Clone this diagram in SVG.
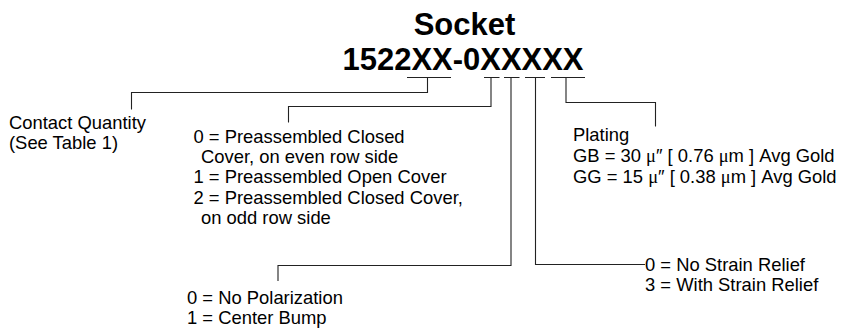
<svg xmlns="http://www.w3.org/2000/svg" width="843" height="330" viewBox="0 0 843 330">
<style>
.t{font-family:"Liberation Sans",Arial,sans-serif;font-size:18.4px;fill:#000}
.h{font-family:"Liberation Sans",Arial,sans-serif;font-size:31px;font-weight:bold;fill:#000;text-anchor:middle}
.mu{font-family:"Liberation Serif","Times New Roman",serif}
.c{fill:none;stroke:#222;stroke-width:1.1}
</style>
<rect width="843" height="330" fill="#fff"/>
<g id="title">
<text class="h" x="464.5" y="35">Socket</text>
<text class="h" x="463" y="69.5" textLength="241" lengthAdjust="spacingAndGlyphs">1522XX-0XXXXX</text>
</g>
<g id="connectors">
<path class="c" d="M407 77.5H451M427.5 77.5V92.5H131.5V109.5"/>
<path class="c" d="M484 77.5H499.5M491 77.5V106.5H288.5V122.5"/>
<path class="c" d="M504 77.5H519.5M511 77.5V265.5H278V281"/>
<path class="c" d="M525 77.5H545M535.5 77.5V264.5H645"/>
<path class="c" d="M551 77.5H585M566 77.5V102.5H655.5V126.5"/>
</g>
<g id="contact-quantity">
<text class="t" x="9" y="128.5">Contact Quantity</text>
<text class="t" x="9" y="148.5">(See Table 1)</text>
</g>
<g id="cover">
<text class="t" x="193.5" y="142.5">0 = Preassembled Closed</text>
<text class="t" x="201" y="163">Cover, on even row side</text>
<text class="t" x="193.5" y="183">1 = Preassembled Open Cover</text>
<text class="t" x="193.5" y="203.5">2 = Preassembled Closed Cover,</text>
<text class="t" x="201" y="224">on odd row side</text>
</g>
<g id="plating">
<text class="t" x="573" y="141">Plating</text>
<text class="t" x="573" y="161.5">GB = 30 <tspan class="mu">μ</tspan>″ [ 0.76 <tspan class="mu">μ</tspan>m ] Avg Gold</text>
<text class="t" x="573" y="183">GG = 15 <tspan class="mu">μ</tspan>″ [ 0.38 <tspan class="mu">μ</tspan>m ] Avg Gold</text>
</g>
<g id="strain-relief">
<text class="t" x="645" y="270.5">0 = No Strain Relief</text>
<text class="t" x="645" y="291">3 = With Strain Relief</text>
</g>
<g id="polarization">
<text class="t" x="187" y="303.5">0 = No Polarization</text>
<text class="t" x="187" y="323.5">1 = Center Bump</text>
</g>
</svg>
